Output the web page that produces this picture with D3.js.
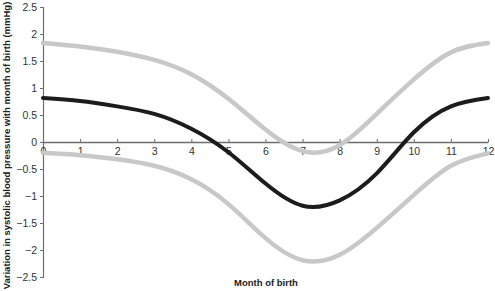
<!DOCTYPE html>
<html>
<head>
<meta charset="utf-8">
<script src="https://cdn.jsdelivr.net/npm/d3@7"></script>
<style>
  body { margin: 0; background: #fff; }
  svg { display: block; font-family: "Liberation Sans", Arial, sans-serif; }
</style>
</head>
<body>
<div id="chart"></div>
<script>
// Month-of-birth effect on systolic BP: mean with upper/lower band
const months      = [0, 1, 2, 3, 4, 5, 6, 7, 8, 9, 10, 11, 12];
const meanValues  = [0.815, 0.76, 0.66, 0.52, 0.245, -0.19, -0.77, -1.18, -1.08, -0.58, 0.18, 0.66, 0.815];
const upperValues = [1.835, 1.77, 1.67, 1.52, 1.255, 0.8, 0.23, -0.17, -0.06, 0.52, 1.16, 1.66, 1.835];
const lowerValues = [-0.2, -0.244, -0.32, -0.44, -0.69, -1.15, -1.78, -2.19, -2.09, -1.59, -0.98, -0.44, -0.21];
const xTicks = [0, 1, 2, 3, 4, 5, 6, 7, 8, 9, 10, 11, 12];
const yTicks = [-2.5, -2, -1.5, -1, -0.5, 0, 0.5, 1, 1.5, 2, 2.5];

const W = 495, H = 291;
const margin = { top: 7, right: 7, bottom: 14, left: 43 };

const svg = d3.select('#chart').append('svg')
  .attr('width', W)
  .attr('height', H);

const x = d3.scaleLinear().domain([0, 12]).range([margin.left, W - margin.right]);
const y = d3.scaleLinear().domain([-2.5, 2.5]).range([H - margin.bottom, margin.top]);

const axisColor = '#6e6e6e';
const fmt = v => (v < 0 ? '\u2212' : '') + Math.abs(v);

// ── Lines ────────────────────────────────────────────────────────────────
const line = d3.line()
  .x(d => x(d[0]))
  .y(d => y(d[1]))
  .curve(d3.curveNatural);

const series = [
  { values: upperValues, color: '#c8c8c8', width: 4.5 },
  { values: lowerValues, color: '#c8c8c8', width: 4.5 },
  { values: meanValues,  color: '#1c1c1c', width: 4 },
];

// ── Y axis ───────────────────────────────────────────────────────────────
const yAxis = svg.append('g')
  .attr('transform', `translate(${margin.left},0)`)
  .call(d3.axisLeft(y).tickValues(yTicks).tickSize(3).tickPadding(3).tickFormat(fmt));
yAxis.select('.domain').attr('stroke', axisColor).attr('stroke-width', 1.2);
yAxis.selectAll('.tick line').attr('stroke', axisColor);
yAxis.selectAll('.tick text')
  .attr('fill', '#333')
  .style('font-size', '10.5px');

// ── X axis (through zero) ────────────────────────────────────────────────
const xAxis = svg.append('g')
  .attr('transform', `translate(0,${y(0)})`)
  .call(d3.axisBottom(x).tickValues(xTicks).tickSizeInner(-3).tickSizeOuter(0).tickPadding(6).tickFormat(d3.format('d')));
xAxis.select('.domain').attr('stroke', axisColor).attr('stroke-width', 1.6);
xAxis.selectAll('.tick line').attr('stroke', axisColor);
xAxis.selectAll('.tick text')
  .attr('fill', '#333')
  .style('font-size', '10.5px');

svg.append('g')
  .selectAll('path')
  .data(series)
  .join('path')
  .attr('fill', 'none')
  .attr('stroke', d => d.color)
  .attr('stroke-width', d => d.width)
  .attr('stroke-linecap', 'round')
  .attr('d', d => line(months.map((m, i) => [m, d.values[i]])));

// ── Titles ───────────────────────────────────────────────────────────────
svg.append('text')
  .attr('x', 266)
  .attr('y', 286)
  .attr('text-anchor', 'middle')
  .attr('fill', '#222')
  .style('font-size', '9.5px')
  .style('font-weight', 'bold')
  .text('Month of birth');

svg.append('text')
  .attr('transform', `translate(9.5,${H / 2}) rotate(-90)`)
  .attr('text-anchor', 'middle')
  .attr('fill', '#222')
  .style('font-size', '9.5px')
  .style('font-weight', 'bold')
  .text('Variation in systolic blood pressure with month of birth (mmHg)');
</script>
</body>
</html>
